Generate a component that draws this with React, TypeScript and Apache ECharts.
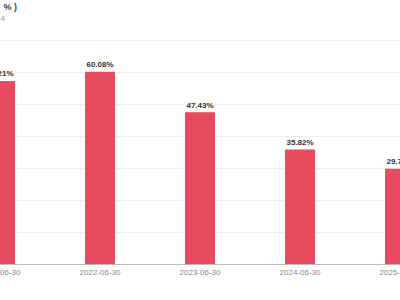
import React, { useEffect, useRef } from "react";
import * as echarts from "echarts";

const categories = ["2021-06-30", "2022-06-30", "2023-06-30", "2024-06-30", "2025-06-30"];
const values = [57.21, 60.08, 47.43, 35.82, 29.73];
const titleText = "资产负债率（ % )";
const subtitleText = "报告期：2021-2024";

export default function App() {
  const ref = useRef<HTMLDivElement>(null);
  useEffect(() => {
    if (!ref.current) return;
    const chart = echarts.init(ref.current, undefined, { renderer: "svg" });
    chart.setOption({
      animation: false,
      graphic: [
        {
          type: "text",
          x: 117,
          y: 2,
          style: {
            text: titleText,
            textAlign: "right",
            fontSize: 9,
            fontWeight: 600,
            fill: "#444",
            fontFamily: "Liberation Sans, Arial, sans-serif",
          },
        },
        {
          type: "text",
          x: 105,
          y: 14,
          style: {
            text: subtitleText,
            textAlign: "right",
            fontSize: 8,
            fill: "#999",
            fontFamily: "Liberation Sans, Arial, sans-serif",
          },
        },
      ],
      grid: { left: 50, right: 50, top: 40, bottom: 36, containLabel: false },
      xAxis: {
        type: "category",
        data: categories,
        axisTick: { show: false },
        axisLine: { lineStyle: { color: "#bbb", width: 1 } },
        axisLabel: {
          color: "#888",
          fontSize: 8,
          margin: 4,
          fontFamily: "Liberation Sans, Arial, sans-serif",
        },
      },
      yAxis: {
        type: "value",
        min: 0,
        max: 70,
        interval: 10,
        axisLabel: { show: false },
        axisLine: { show: false },
        axisTick: { show: false },
        splitLine: { lineStyle: { color: "#f0f0f0", width: 1 } },
      },
      series: [
        {
          type: "bar",
          data: values,
          barWidth: 30,
          itemStyle: { color: "#E84A5F" },
          label: {
            show: true,
            position: "top",
            distance: 3,
            formatter: (p: any) => p.value.toFixed(2) + "%",
            fontSize: 8,
            fontWeight: "bold",
            color: "#333",
            fontFamily: "Liberation Sans, Arial, sans-serif",
          },
        },
      ],
    });
    return () => chart.dispose();
  }, []);
  return (
    <div
      ref={ref}
      style={{ position: "absolute", left: -100, top: 0, width: 600, height: 300 }}
    />
  );
}
